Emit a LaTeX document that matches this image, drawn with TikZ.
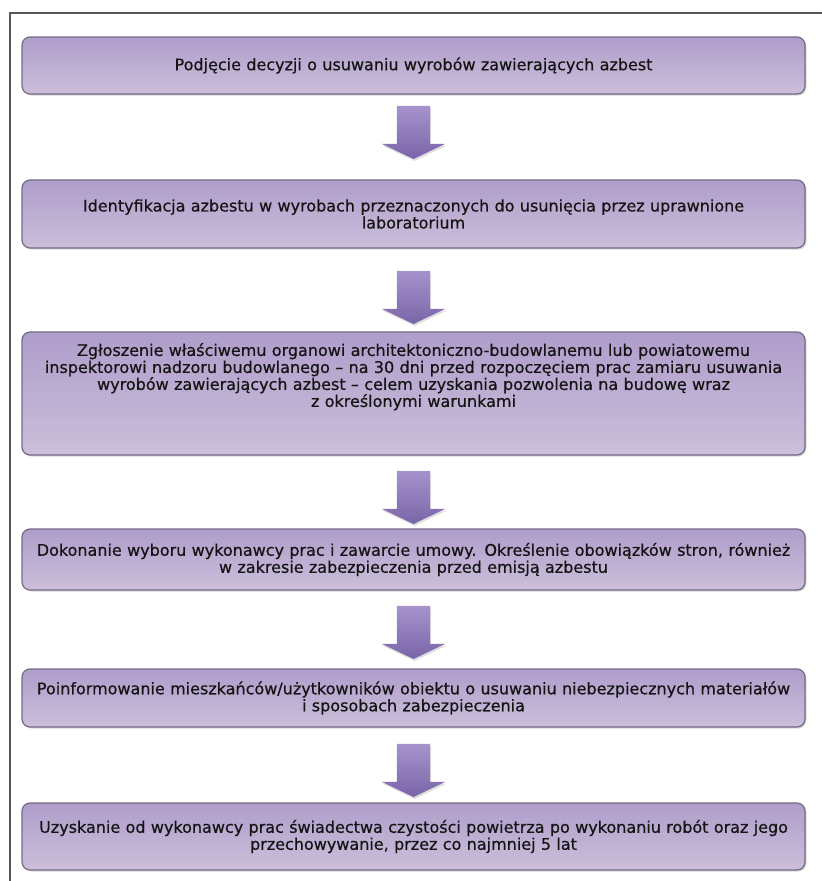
\documentclass[tikz,border=0pt]{standalone}
\usepackage{fontspec}
\newfontfamily\flowfont[FakeBold=0.5]{DejaVu Sans}
\usepackage{tikz}
\usetikzlibrary{shapes.arrows,shadows}
\definecolor{boxtop}{HTML}{AF9DCB}
\definecolor{boxmid}{HTML}{E6E0EC}
\definecolor{boxbot}{HTML}{CBBFDA}
\definecolor{boxline}{HTML}{736A84}
\definecolor{arrowtop}{HTML}{A693CC}
\definecolor{arrowbot}{HTML}{7A64A9}
\definecolor{frameline}{HTML}{585858}
\def\purplebox{\node[stepbox]}
\def\purplearrow{\node[blockarrow]}

\begin{document}
\begin{tikzpicture}[x=1pt,y=-1pt,
  stepbox/.style={rectangle,rounded corners=8pt,draw=boxline,line width=1.2pt,
    top color=boxtop,middle color=boxmid,bottom color=boxbot,
    drop shadow={opacity=0.3,shadow xshift=1.5pt,shadow yshift=-1.5pt},
    minimum width=783pt,text width=783pt,align=center,inner sep=0pt,
    font=\flowfont\fontsize{16pt}{17pt}\selectfont,text=black!92},
  blockarrow/.style={single arrow,shape border rotate=270,draw=none,
    top color=arrowtop,bottom color=arrowbot,inner sep=16.5pt,
    single arrow head extend=15pt,single arrow tip angle=129,minimum height=53pt,
    drop shadow={opacity=0.25,shadow xshift=1pt,shadow yshift=-2pt}}]
\useasboundingbox (0,0) rectangle (822,881);
\draw[frameline,line width=2pt] (10,881) -- (10,13) -- (822,13);
\purplebox[minimum height=57pt] (decision) at (413.5,65.5)
  {Podjęcie decyzji o usuwaniu wyrobów zawierających azbest};
\purplebox[minimum height=68pt] (identify) at (413.5,214)
  {Identyfikacja azbestu w wyrobach przeznaczonych do usunięcia przez uprawnione\\ laboratorium};
\purplebox[minimum height=123pt,text depth=88pt] (notify) at (413.5,393.5)
  {Zgłoszenie właściwemu organowi architektoniczno-budowlanemu lub powiatowemu\\
   inspektorowi nadzoru budowlanego – na 30 dni przed rozpoczęciem prac zamiaru usuwania\\
   wyrobów zawierających azbest – celem uzyskania pozwolenia na budowę wraz\\
   z określonymi warunkami};
\purplebox[minimum height=61pt] (contractor) at (413.5,559.5)
  {Dokonanie wyboru wykonawcy prac i zawarcie umowy. Określenie obowiązków stron, również\\
   w zakresie zabezpieczenia przed emisją azbestu};
\purplebox[minimum height=58pt] (residents) at (413.5,698)
  {Poinformowanie mieszkańców/użytkowników obiektu o usuwaniu niebezpiecznych materiałów\\
   i sposobach zabezpieczenia};
\purplebox[minimum height=67pt] (certificate) at (413.5,836.5)
  {Uzyskanie od wykonawcy prac świadectwa czystości powietrza po wykonaniu robót oraz jego\\
   przechowywanie, przez co najmniej 5 lat};
\purplearrow (a1) at (413.5,128.5) {};
\purplearrow (a2) at (413.5,293.5) {};
\purplearrow (a3) at (413.5,493.5) {};
\purplearrow (a4) at (413.5,628.5) {};
\purplearrow (a5) at (413.5,766.5) {};
\end{tikzpicture}
\end{document}
